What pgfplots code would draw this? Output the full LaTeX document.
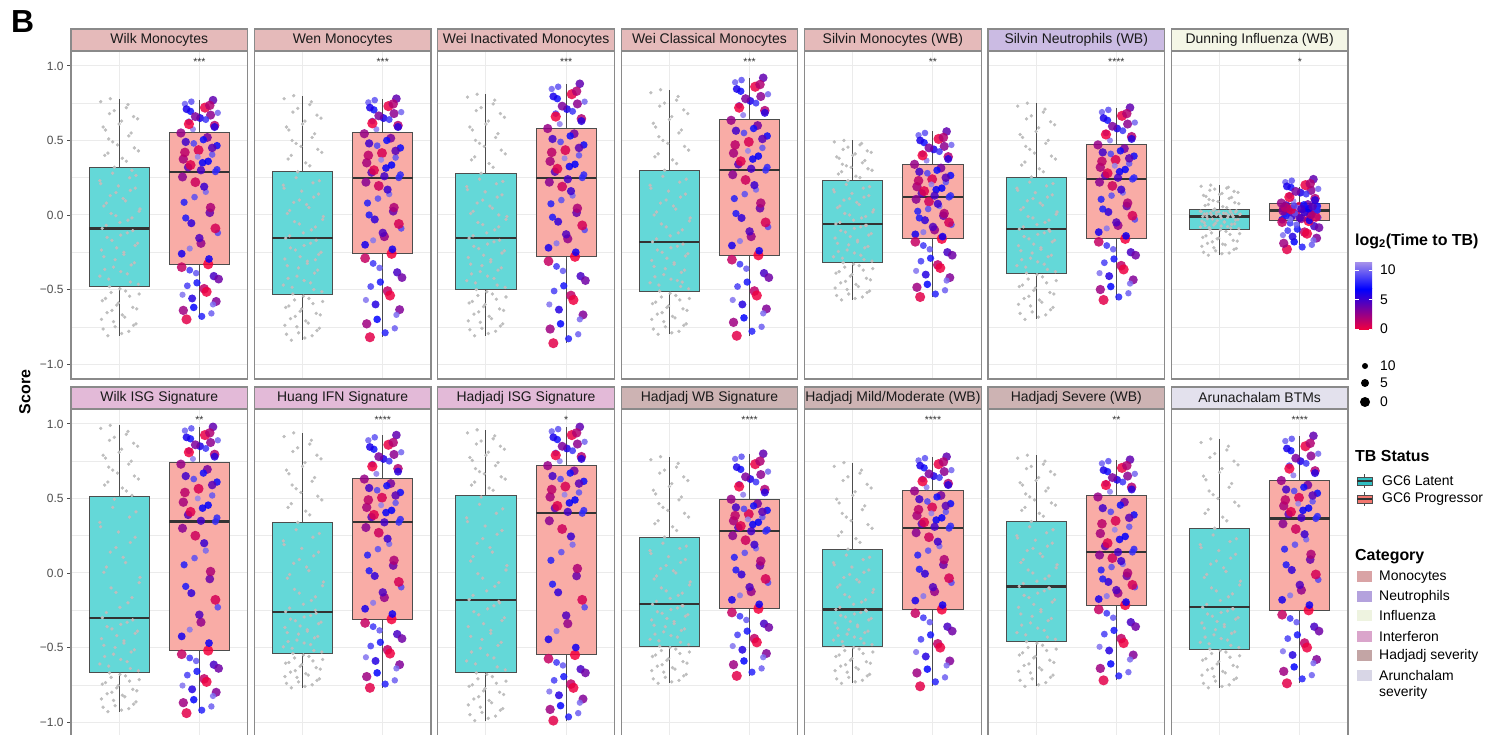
\documentclass[border=0pt]{standalone}
\usepackage{fontspec}
\setmainfont{Liberation Sans}
\usepackage{pgfplots}
\usepackage{pgfplotstable}
\pgfplotsset{compat=1.18}
\usepgfplotslibrary{statistics}

\definecolor{latfill}{HTML}{64D8D8}
\definecolor{profill}{HTML}{F9ACA6}
\definecolor{latkey}{HTML}{2FBFC2}
\definecolor{prokey}{HTML}{F2766E}
\definecolor{boxline}{HTML}{4D4D4D}
\definecolor{medc}{HTML}{333333}
\definecolor{ptgray}{HTML}{BEBEBE}
\definecolor{border}{HTML}{8A8A8A}
\definecolor{gridc}{HTML}{EBEBEB}
\definecolor{tickc}{HTML}{4D4D4D}
\definecolor{stript}{HTML}{1A1A1A}
\definecolor{starc}{HTML}{333333}
\definecolor{stripMono}{HTML}{E5BABA}
\definecolor{stripNeu}{HTML}{CBBBE3}
\definecolor{stripInf}{HTML}{F4F6E6}
\definecolor{stripIfn}{HTML}{E3BAD8}
\definecolor{stripHad}{HTML}{CDB3B3}
\definecolor{stripAru}{HTML}{E3E1ED}
\definecolor{keyMono}{HTML}{D9A3A5}
\definecolor{keyNeu}{HTML}{B4A2DD}
\definecolor{keyInf}{HTML}{EEF3E0}
\definecolor{keyIfn}{HTML}{DAA5CB}
\definecolor{keyHad}{HTML}{C3A5A5}
\definecolor{keyAru}{HTML}{D8D6E6}
\definecolor{cred}{RGB}{245,0,60}
\definecolor{cblue}{RGB}{0,0,255}
\definecolor{clav}{RGB}{160,140,235}

% gray points (GC6 Latent), set A: row x = jitter, rows y1..y14 = scores per panel
\pgfplotstableread[header=false]{
x 0.86 1.12 0.95 1.21 0.78 1.04 0.91 1.17 0.99 0.83 1.25 1.08 0.88 1.14 0.76 1.02 0.93 1.19 0.81 1.06 0.97 1.23 0.85 1.10 0.79 1.01 1.16 0.90 1.26 0.84 1.05 0.96 1.20 0.77 1.13 0.92 1.09 0.82 1.24 0.98 0.87 1.15 0.80 1.03 1.18 0.94 1.11 0.89
y1 -0.81 -0.78 -0.75 -0.73 -0.70 -0.67 -0.64 -0.62 -0.59 -0.56 -0.53 -0.51 -0.48 -0.45 -0.41 -0.38 -0.35 -0.32 -0.28 -0.25 -0.22 -0.19 -0.15 -0.12 -0.09 -0.05 -0.02 0.01 0.04 0.08 0.11 0.15 0.18 0.21 0.25 0.28 0.36 0.40 0.43 0.47 0.51 0.55 0.59 0.63 0.66 0.70 0.74 0.78
y2 -0.84 -0.81 -0.79 -0.76 -0.74 -0.71 -0.68 -0.66 -0.63 -0.61 -0.58 -0.56 -0.53 -0.50 -0.47 -0.44 -0.41 -0.37 -0.34 -0.31 -0.28 -0.25 -0.22 -0.19 -0.155 -0.12 -0.08 -0.045 -0.01 0.03 0.07 0.10 0.14 0.18 0.215 0.25 0.33 0.375 0.42 0.46 0.50 0.545 0.59 0.63 0.67 0.715 0.76 0.80
y3 -0.81 -0.78 -0.76 -0.73 -0.71 -0.68 -0.65 -0.63 -0.60 -0.58 -0.55 -0.53 -0.50 -0.47 -0.44 -0.41 -0.38 -0.355 -0.33 -0.30 -0.27 -0.24 -0.21 -0.18 -0.155 -0.12 -0.08 -0.05 -0.01 0.025 0.06 0.10 0.135 0.17 0.21 0.24 0.32 0.37 0.41 0.46 0.50 0.545 0.59 0.63 0.68 0.72 0.77 0.81
y4 -0.80 -0.78 -0.75 -0.73 -0.70 -0.68 -0.655 -0.63 -0.61 -0.585 -0.56 -0.54 -0.51 -0.48 -0.455 -0.43 -0.40 -0.37 -0.345 -0.32 -0.29 -0.26 -0.235 -0.21 -0.18 -0.14 -0.10 -0.06 -0.02 0.02 0.06 0.10 0.14 0.18 0.22 0.26 0.345 0.39 0.435 0.48 0.525 0.57 0.615 0.66 0.705 0.75 0.795 0.84
y5 -0.57 -0.55 -0.53 -0.51 -0.49 -0.465 -0.445 -0.425 -0.40 -0.38 -0.36 -0.34 -0.32 -0.30 -0.28 -0.255 -0.235 -0.21 -0.19 -0.17 -0.145 -0.125 -0.105 -0.08 -0.06 -0.035 -0.01 0.01 0.035 0.06 0.085 0.11 0.13 0.155 0.18 0.205 0.25 0.275 0.30 0.32 0.34 0.365 0.39 0.41 0.43 0.455 0.48 0.50
y6 -0.70 -0.67 -0.65 -0.62 -0.60 -0.57 -0.545 -0.52 -0.49 -0.47 -0.44 -0.415 -0.39 -0.365 -0.34 -0.315 -0.29 -0.27 -0.24 -0.22 -0.195 -0.17 -0.145 -0.12 -0.095 -0.065 -0.035 -0.01 0.02 0.05 0.08 0.11 0.135 0.165 0.195 0.22 0.29 0.335 0.375 0.415 0.46 0.50 0.54 0.585 0.625 0.665 0.71 0.75
y7 -0.27 -0.255 -0.24 -0.225 -0.21 -0.195 -0.18 -0.17 -0.155 -0.14 -0.125 -0.11 -0.095 -0.088 -0.081 -0.074 -0.067 -0.06 -0.052 -0.045 -0.038 -0.031 -0.024 -0.017 -0.01 -0.006 -0.002 0.001 0.005 0.009 0.012 0.016 0.02 0.024 0.027 0.031 0.049 0.063 0.076 0.09 0.104 0.118 0.131 0.145 0.159 0.173 0.186 0.20
y8 -0.93 -0.91 -0.89 -0.865 -0.845 -0.82 -0.80 -0.78 -0.755 -0.735 -0.715 -0.69 -0.67 -0.64 -0.61 -0.58 -0.545 -0.515 -0.485 -0.455 -0.42 -0.39 -0.36 -0.33 -0.30 -0.23 -0.165 -0.10 -0.03 0.04 0.105 0.17 0.24 0.31 0.375 0.44 0.55 0.59 0.63 0.67 0.71 0.75 0.79 0.83 0.87 0.91 0.95 0.99
y9 -0.77 -0.75 -0.73 -0.71 -0.695 -0.675 -0.655 -0.635 -0.615 -0.60 -0.58 -0.56 -0.54 -0.52 -0.495 -0.47 -0.45 -0.425 -0.40 -0.38 -0.355 -0.33 -0.31 -0.285 -0.26 -0.21 -0.16 -0.11 -0.06 -0.01 0.04 0.09 0.14 0.19 0.24 0.29 0.39 0.44 0.49 0.54 0.59 0.64 0.69 0.74 0.79 0.84 0.89 0.94
y10 -0.99 -0.96 -0.935 -0.91 -0.885 -0.855 -0.83 -0.80 -0.775 -0.75 -0.725 -0.695 -0.67 -0.63 -0.59 -0.55 -0.505 -0.465 -0.425 -0.385 -0.34 -0.30 -0.26 -0.22 -0.18 -0.12 -0.065 -0.005 0.05 0.11 0.17 0.23 0.285 0.345 0.40 0.46 0.555 0.59 0.63 0.665 0.70 0.74 0.775 0.81 0.85 0.885 0.92 0.96
y11 -0.74 -0.72 -0.70 -0.68 -0.655 -0.635 -0.615 -0.595 -0.575 -0.55 -0.53 -0.51 -0.49 -0.465 -0.445 -0.42 -0.395 -0.375 -0.35 -0.325 -0.305 -0.28 -0.26 -0.235 -0.21 -0.17 -0.135 -0.10 -0.06 -0.02 0.015 0.05 0.09 0.13 0.165 0.20 0.285 0.33 0.375 0.42 0.465 0.51 0.555 0.60 0.645 0.69 0.735 0.78
y12 -0.74 -0.72 -0.70 -0.68 -0.655 -0.635 -0.615 -0.595 -0.575 -0.55 -0.53 -0.51 -0.49 -0.47 -0.45 -0.43 -0.41 -0.39 -0.37 -0.35 -0.325 -0.305 -0.285 -0.265 -0.245 -0.21 -0.18 -0.145 -0.11 -0.08 -0.045 -0.01 0.02 0.055 0.09 0.12 0.205 0.25 0.30 0.35 0.40 0.45 0.495 0.545 0.595 0.645 0.69 0.74
y13 -0.76 -0.735 -0.71 -0.685 -0.66 -0.635 -0.61 -0.585 -0.56 -0.535 -0.51 -0.485 -0.46 -0.43 -0.40 -0.37 -0.335 -0.305 -0.275 -0.245 -0.21 -0.18 -0.15 -0.12 -0.09 -0.055 -0.02 0.02 0.055 0.09 0.13 0.165 0.20 0.235 0.27 0.31 0.38 0.42 0.455 0.49 0.53 0.57 0.605 0.64 0.68 0.715 0.75 0.79
y14 -0.77 -0.75 -0.725 -0.705 -0.685 -0.66 -0.64 -0.62 -0.595 -0.575 -0.555 -0.53 -0.51 -0.485 -0.465 -0.44 -0.415 -0.395 -0.37 -0.345 -0.325 -0.30 -0.275 -0.255 -0.23 -0.185 -0.14 -0.10 -0.055 -0.01 0.035 0.08 0.125 0.17 0.21 0.255 0.35 0.40 0.45 0.50 0.55 0.60 0.65 0.70 0.75 0.80 0.85 0.90
}\grawtab
\pgfplotstabletranspose[colnames from=0]{\gtab}{\grawtab}

% gray points (GC6 Latent), set B
\pgfplotstableread[header=false]{
x 1.03 0.80 1.18 0.93 1.07 0.85 1.22 0.97 0.79 1.13 0.90 1.01 1.24 0.87 1.10 0.82 1.15 0.95 1.06 0.78 1.20 0.91 1.02 1.17 0.84 1.11 0.96 1.25 0.81 1.08 0.89 1.14 0.99 0.76 1.21 0.94 1.04 0.86 1.19 0.92 1.12 0.83 1.00 1.23 0.88 1.09 0.77 1.16
y1 -0.795 -0.765 -0.74 -0.715 -0.685 -0.655 -0.63 -0.605 -0.575 -0.545 -0.52 -0.495 -0.465 -0.43 -0.395 -0.365 -0.335 -0.30 -0.265 -0.235 -0.205 -0.17 -0.135 -0.105 -0.07 -0.035 -0.005 0.025 0.06 0.095 0.13 0.165 0.195 0.23 0.265 0.32 0.38 0.415 0.45 0.49 0.53 0.57 0.61 0.645 0.68 0.72 0.76 0.30
y2 -0.825 -0.80 -0.775 -0.75 -0.725 -0.695 -0.67 -0.645 -0.62 -0.595 -0.57 -0.545 -0.515 -0.485 -0.455 -0.425 -0.39 -0.355 -0.325 -0.295 -0.265 -0.235 -0.205 -0.17 -0.14 -0.10 -0.06 -0.03 0.01 0.05 0.085 0.12 0.16 0.20 0.23 0.29 0.35 0.40 0.44 0.48 0.52 0.57 0.61 0.65 0.69 0.74 0.78 -0.30
y3 -0.795 -0.77 -0.745 -0.72 -0.695 -0.665 -0.64 -0.615 -0.59 -0.565 -0.54 -0.515 -0.485 -0.455 -0.425 -0.395 -0.37 -0.34 -0.315 -0.285 -0.255 -0.225 -0.195 -0.17 -0.14 -0.10 -0.065 -0.03 0.01 0.045 0.08 0.12 0.155 0.19 0.225 0.28 0.345 0.39 0.435 0.48 0.52 0.57 0.61 0.655 0.70 0.745 0.79 0.0
y4 -0.79 -0.765 -0.74 -0.715 -0.69 -0.665 -0.64 -0.62 -0.595 -0.57 -0.55 -0.525 -0.495 -0.47 -0.44 -0.415 -0.385 -0.36 -0.33 -0.305 -0.275 -0.25 -0.22 -0.195 -0.16 -0.12 -0.08 -0.04 0.0 0.04 0.08 0.12 0.16 0.20 0.24 0.30 0.37 0.41 0.46 0.50 0.55 0.59 0.64 0.68 0.73 0.77 0.82 -0.45
y5 -0.56 -0.54 -0.52 -0.50 -0.48 -0.455 -0.435 -0.41 -0.39 -0.37 -0.35 -0.33 -0.31 -0.29 -0.27 -0.245 -0.22 -0.20 -0.18 -0.155 -0.135 -0.115 -0.09 -0.07 -0.05 -0.02 0.0 0.02 0.05 0.07 0.10 0.12 0.145 0.17 0.19 0.23 0.26 0.29 0.31 0.33 0.35 0.38 0.40 0.42 0.44 0.47 0.49 -0.07
y6 -0.685 -0.66 -0.635 -0.61 -0.585 -0.56 -0.53 -0.505 -0.48 -0.455 -0.43 -0.40 -0.38 -0.35 -0.33 -0.30 -0.28 -0.255 -0.23 -0.205 -0.18 -0.16 -0.13 -0.11 -0.08 -0.05 -0.02 0.005 0.035 0.065 0.095 0.12 0.15 0.18 0.21 0.255 0.31 0.355 0.395 0.44 0.48 0.52 0.56 0.605 0.645 0.69 0.73 -0.10
y7 -0.26 -0.25 -0.23 -0.22 -0.20 -0.19 -0.175 -0.16 -0.15 -0.13 -0.12 -0.10 -0.092 -0.085 -0.078 -0.07 -0.063 -0.056 -0.048 -0.041 -0.034 -0.027 -0.02 -0.013 -0.008 -0.004 0.0 0.003 0.007 0.01 0.014 0.018 0.022 0.025 0.029 0.04 0.056 0.07 0.083 0.097 0.111 0.125 0.138 0.152 0.166 0.18 0.193 0.0
y8 -0.92 -0.90 -0.88 -0.855 -0.83 -0.81 -0.79 -0.77 -0.745 -0.725 -0.70 -0.68 -0.655 -0.625 -0.595 -0.56 -0.53 -0.50 -0.47 -0.44 -0.405 -0.375 -0.345 -0.315 -0.265 -0.20 -0.13 -0.065 0.005 0.07 0.14 0.205 0.275 0.34 0.41 0.495 0.57 0.61 0.65 0.69 0.73 0.77 0.81 0.85 0.89 0.93 0.97 0.52
y9 -0.76 -0.74 -0.72 -0.70 -0.685 -0.665 -0.645 -0.625 -0.605 -0.59 -0.57 -0.55 -0.53 -0.505 -0.48 -0.46 -0.435 -0.41 -0.39 -0.365 -0.34 -0.32 -0.295 -0.27 -0.235 -0.185 -0.135 -0.085 -0.035 0.015 0.065 0.115 0.165 0.215 0.265 0.34 0.415 0.465 0.515 0.565 0.615 0.665 0.715 0.765 0.815 0.865 0.915 -0.25
y10 -0.975 -0.95 -0.92 -0.90 -0.87 -0.845 -0.815 -0.79 -0.76 -0.74 -0.71 -0.68 -0.65 -0.61 -0.57 -0.53 -0.485 -0.445 -0.405 -0.36 -0.32 -0.28 -0.24 -0.20 -0.15 -0.09 -0.035 0.02 0.08 0.14 0.20 0.26 0.315 0.37 0.43 0.51 0.57 0.61 0.645 0.68 0.72 0.755 0.79 0.83 0.865 0.90 0.94 -0.19
y11 -0.73 -0.71 -0.69 -0.665 -0.645 -0.625 -0.605 -0.585 -0.56 -0.54 -0.52 -0.50 -0.48 -0.455 -0.43 -0.41 -0.385 -0.36 -0.34 -0.315 -0.29 -0.27 -0.245 -0.22 -0.19 -0.15 -0.12 -0.08 -0.04 0.0 0.03 0.07 0.11 0.15 0.18 0.24 0.31 0.35 0.40 0.44 0.49 0.53 0.58 0.62 0.67 0.71 0.76 -0.22
y12 -0.73 -0.71 -0.69 -0.665 -0.645 -0.625 -0.605 -0.585 -0.56 -0.54 -0.52 -0.50 -0.48 -0.46 -0.44 -0.42 -0.40 -0.38 -0.36 -0.335 -0.315 -0.295 -0.275 -0.255 -0.23 -0.195 -0.16 -0.13 -0.095 -0.06 -0.03 0.005 0.04 0.07 0.105 0.16 0.23 0.275 0.325 0.375 0.425 0.47 0.52 0.57 0.62 0.67 0.715 -0.25
y13 -0.75 -0.72 -0.70 -0.67 -0.65 -0.62 -0.60 -0.57 -0.55 -0.52 -0.50 -0.47 -0.445 -0.415 -0.385 -0.35 -0.32 -0.29 -0.26 -0.23 -0.195 -0.165 -0.135 -0.105 -0.07 -0.04 0.0 0.035 0.07 0.11 0.15 0.18 0.22 0.25 0.29 0.345 0.40 0.44 0.47 0.51 0.55 0.59 0.62 0.66 0.70 0.73 0.77 -0.10
y14 -0.76 -0.74 -0.715 -0.695 -0.67 -0.65 -0.63 -0.61 -0.585 -0.565 -0.54 -0.52 -0.50 -0.475 -0.45 -0.43 -0.405 -0.38 -0.36 -0.335 -0.31 -0.29 -0.265 -0.24 -0.21 -0.16 -0.12 -0.08 -0.03 0.01 0.06 0.10 0.15 0.19 0.23 0.30 0.375 0.425 0.475 0.525 0.575 0.625 0.675 0.725 0.775 0.825 0.875 -0.24
}\grawtabb
\pgfplotstabletranspose[colnames from=0]{\gtabb}{\grawtabb}

% coloured points (GC6 Progressor), set A: x = jitter, c = log2(time to TB), y1..y14 = scores
\pgfplotstableread[header=false]{
x 1.84 2.15 1.93 2.21 1.79 2.06 1.97 2.18 1.88 2.11 1.78 2.02 2.23 1.90 2.13 1.81 2.08 1.95 2.20 1.86 2.04 1.80 2.16 1.99 2.22 1.83 2.10 1.92 2.19 1.87 2.01 2.14 1.89 2.07 1.82 2.17
c 0.5 9.8 6.9 3.2 10.4 1.5 7.5 4.8 8.6 0.0 6.2 2.7 9.1 5.5 3.9 7.8 10.1 1.1 8.3 4.4 6.6 2.2 9.5 0.8 7.1 5.0 3.5 10.7 1.8 8.9 6.0 2.9 7.3 0.3 9.9 4.1
y1 -0.70 -0.66 -0.62 -0.58 -0.535 -0.495 -0.455 -0.41 -0.37 -0.33 -0.26 -0.19 -0.12 -0.055 0.015 0.085 0.155 0.22 0.29 0.32 0.35 0.375 0.405 0.435 0.465 0.49 0.52 0.575 0.60 0.625 0.65 0.67 0.695 0.72 0.745 0.77
y2 -0.82 -0.76 -0.70 -0.635 -0.57 -0.51 -0.45 -0.385 -0.325 -0.26 -0.20 -0.145 -0.09 -0.03 0.025 0.08 0.14 0.195 0.25 0.285 0.315 0.35 0.385 0.415 0.45 0.48 0.515 0.575 0.60 0.63 0.65 0.68 0.705 0.73 0.755 0.78
y3 -0.86 -0.80 -0.73 -0.67 -0.60 -0.54 -0.475 -0.41 -0.345 -0.28 -0.22 -0.16 -0.10 -0.045 0.015 0.075 0.13 0.19 0.25 0.29 0.325 0.36 0.40 0.435 0.47 0.51 0.545 0.61 0.645 0.68 0.71 0.745 0.78 0.81 0.845 0.88
y4 -0.81 -0.75 -0.69 -0.63 -0.57 -0.51 -0.45 -0.39 -0.33 -0.27 -0.205 -0.145 -0.08 -0.02 0.045 0.11 0.17 0.235 0.30 0.34 0.375 0.415 0.45 0.49 0.53 0.565 0.60 0.67 0.70 0.735 0.765 0.795 0.83 0.86 0.89 0.92
y5 -0.55 -0.505 -0.465 -0.42 -0.375 -0.335 -0.29 -0.25 -0.205 -0.16 -0.13 -0.10 -0.065 -0.035 -0.005 0.025 0.06 0.09 0.12 0.145 0.17 0.19 0.22 0.24 0.265 0.29 0.315 0.365 0.39 0.41 0.44 0.46 0.485 0.51 0.535 0.56
y6 -0.57 -0.525 -0.48 -0.435 -0.39 -0.34 -0.295 -0.25 -0.205 -0.16 -0.115 -0.07 -0.03 0.02 0.06 0.105 0.15 0.195 0.24 0.265 0.29 0.32 0.345 0.37 0.395 0.42 0.445 0.50 0.525 0.55 0.58 0.61 0.635 0.665 0.69 0.72
y7 -0.23 -0.20 -0.18 -0.155 -0.135 -0.115 -0.095 -0.075 -0.055 -0.04 -0.032 -0.024 -0.017 -0.009 -0.001 0.007 0.015 0.022 0.03 0.035 0.04 0.045 0.05 0.055 0.06 0.065 0.07 0.093 0.11 0.13 0.15 0.165 0.185 0.20 0.22 0.24
y8 -0.94 -0.895 -0.85 -0.80 -0.755 -0.71 -0.66 -0.615 -0.57 -0.52 -0.425 -0.33 -0.23 -0.135 -0.04 0.055 0.15 0.25 0.345 0.39 0.435 0.475 0.52 0.565 0.61 0.65 0.695 0.765 0.795 0.82 0.85 0.875 0.90 0.925 0.955 0.98
y9 -0.77 -0.72 -0.67 -0.615 -0.565 -0.515 -0.465 -0.41 -0.36 -0.31 -0.24 -0.165 -0.095 -0.02 0.05 0.12 0.195 0.27 0.34 0.375 0.405 0.44 0.47 0.505 0.54 0.57 0.60 0.665 0.70 0.73 0.765 0.795 0.83 0.86 0.89 0.925
y10 -0.99 -0.94 -0.89 -0.845 -0.795 -0.745 -0.695 -0.645 -0.60 -0.55 -0.445 -0.34 -0.23 -0.13 -0.02 0.085 0.19 0.295 0.40 0.435 0.47 0.51 0.54 0.58 0.615 0.65 0.685 0.75 0.78 0.805 0.835 0.865 0.895 0.925 0.95 0.98
y11 -0.69 -0.64 -0.59 -0.54 -0.49 -0.44 -0.39 -0.34 -0.29 -0.24 -0.18 -0.125 -0.065 -0.01 0.05 0.105 0.165 0.22 0.28 0.305 0.325 0.35 0.375 0.395 0.42 0.44 0.465 0.525 0.56 0.595 0.63 0.66 0.695 0.73 0.765 0.80
y12 -0.76 -0.70 -0.645 -0.59 -0.53 -0.475 -0.415 -0.36 -0.30 -0.245 -0.185 -0.125 -0.065 -0.005 0.055 0.12 0.18 0.24 0.30 0.33 0.355 0.385 0.41 0.44 0.465 0.495 0.52 0.575 0.60 0.63 0.65 0.68 0.705 0.73 0.755 0.78
y13 -0.72 -0.665 -0.61 -0.55 -0.495 -0.44 -0.385 -0.33 -0.27 -0.215 -0.175 -0.135 -0.095 -0.06 -0.02 0.02 0.06 0.10 0.14 0.18 0.225 0.265 0.31 0.35 0.39 0.435 0.475 0.545 0.575 0.60 0.625 0.65 0.68 0.705 0.735 0.76
y14 -0.74 -0.685 -0.63 -0.58 -0.525 -0.47 -0.415 -0.36 -0.305 -0.25 -0.18 -0.115 -0.045 0.02 0.09 0.16 0.225 0.295 0.365 0.395 0.42 0.45 0.48 0.505 0.535 0.56 0.59 0.655 0.685 0.72 0.75 0.785 0.82 0.85 0.885 0.92
}\crawtab
\pgfplotstabletranspose[colnames from=0]{\ctab}{\crawtab}

% coloured points (GC6 Progressor), set B
\pgfplotstableread[header=false]{
x 2.03 1.80 2.17 1.91 2.09 1.85 2.24 1.96 1.78 2.12 1.88 2.00 2.20 1.83 2.14 1.94 2.06 1.79 2.22 1.89 2.11 1.98 1.82 2.16 1.93 2.05 1.77 2.19 1.87 2.08 1.95 2.23 1.84 2.13 1.90 2.02
c 7.9 2.4 10.2 5.8 0.2 8.8 3.7 9.6 1.3 6.4 10.5 4.6 0.9 7.6 2.0 9.3 5.2 3.0 8.1 0.6 6.8 10.9 1.6 4.3 9.0 7.2 2.6 5.7 0.1 8.5 3.3 10.0 6.1 1.9 9.4 4.9
y1 -0.68 -0.64 -0.60 -0.56 -0.515 -0.475 -0.43 -0.39 -0.35 -0.295 -0.225 -0.155 -0.09 -0.02 0.05 0.12 0.19 0.255 0.305 0.335 0.36 0.39 0.42 0.45 0.48 0.505 0.55 0.59 0.61 0.64 0.66 0.685 0.71 0.735 0.76 0.30
y2 -0.79 -0.73 -0.67 -0.60 -0.54 -0.48 -0.42 -0.355 -0.29 -0.23 -0.17 -0.12 -0.06 0.0 0.05 0.11 0.17 0.22 0.27 0.30 0.335 0.37 0.40 0.43 0.465 0.50 0.545 0.59 0.615 0.64 0.665 0.69 0.72 0.745 0.77 0.26
y3 -0.83 -0.765 -0.70 -0.635 -0.57 -0.51 -0.44 -0.375 -0.31 -0.25 -0.19 -0.13 -0.07 -0.015 0.045 0.10 0.16 0.22 0.27 0.31 0.34 0.38 0.42 0.45 0.49 0.53 0.58 0.63 0.66 0.695 0.73 0.76 0.795 0.83 0.86 0.24
y4 -0.78 -0.72 -0.66 -0.60 -0.54 -0.48 -0.42 -0.36 -0.30 -0.24 -0.175 -0.11 -0.05 0.01 0.08 0.14 0.20 0.27 0.32 0.36 0.395 0.43 0.47 0.51 0.55 0.58 0.635 0.685 0.72 0.75 0.78 0.81 0.845 0.875 0.905 0.31
y5 -0.53 -0.485 -0.44 -0.40 -0.355 -0.31 -0.27 -0.23 -0.18 -0.145 -0.115 -0.08 -0.05 -0.02 0.01 0.04 0.075 0.105 0.13 0.16 0.18 0.205 0.23 0.25 0.28 0.30 0.34 0.375 0.40 0.425 0.45 0.47 0.50 0.52 0.55 0.13
y6 -0.55 -0.50 -0.46 -0.41 -0.365 -0.32 -0.27 -0.23 -0.18 -0.14 -0.09 -0.05 -0.005 0.04 0.08 0.13 0.17 0.22 0.25 0.28 0.305 0.33 0.36 0.38 0.41 0.43 0.47 0.51 0.54 0.565 0.595 0.62 0.65 0.68 0.705 0.25
y7 -0.215 -0.19 -0.17 -0.145 -0.125 -0.105 -0.085 -0.065 -0.048 -0.036 -0.028 -0.02 -0.013 -0.005 0.003 0.011 0.018 0.026 0.032 0.037 0.042 0.048 0.052 0.058 0.062 0.068 0.08 0.10 0.12 0.14 0.158 0.175 0.192 0.21 0.23 0.04
y8 -0.92 -0.87 -0.825 -0.78 -0.73 -0.685 -0.64 -0.59 -0.545 -0.47 -0.38 -0.28 -0.18 -0.09 0.01 0.10 0.20 0.30 0.37 0.41 0.455 0.50 0.54 0.59 0.63 0.67 0.73 0.78 0.81 0.835 0.86 0.89 0.91 0.94 0.97 0.35
y9 -0.745 -0.695 -0.64 -0.59 -0.54 -0.49 -0.44 -0.385 -0.335 -0.275 -0.20 -0.13 -0.06 0.015 0.085 0.16 0.23 0.305 0.36 0.39 0.42 0.455 0.49 0.52 0.555 0.585 0.63 0.68 0.715 0.75 0.78 0.81 0.845 0.875 0.91 0.34
y10 -0.965 -0.915 -0.87 -0.82 -0.77 -0.72 -0.67 -0.62 -0.575 -0.50 -0.39 -0.285 -0.18 -0.075 0.03 0.14 0.245 0.35 0.42 0.45 0.49 0.525 0.56 0.60 0.63 0.67 0.72 0.765 0.79 0.82 0.85 0.88 0.91 0.94 0.965 0.41
y11 -0.665 -0.615 -0.565 -0.515 -0.465 -0.415 -0.365 -0.315 -0.265 -0.21 -0.15 -0.095 -0.04 0.02 0.08 0.135 0.19 0.25 0.29 0.315 0.34 0.36 0.385 0.41 0.43 0.45 0.495 0.54 0.58 0.61 0.645 0.68 0.71 0.75 0.78 0.28
y12 -0.73 -0.67 -0.62 -0.56 -0.50 -0.445 -0.39 -0.33 -0.27 -0.215 -0.155 -0.095 -0.035 0.025 0.09 0.15 0.21 0.27 0.315 0.34 0.37 0.40 0.425 0.45 0.48 0.51 0.55 0.59 0.615 0.64 0.665 0.69 0.72 0.745 0.77 0.31
y13 -0.69 -0.64 -0.58 -0.52 -0.47 -0.41 -0.36 -0.30 -0.245 -0.195 -0.155 -0.115 -0.08 -0.04 0.0 0.04 0.08 0.12 0.16 0.20 0.245 0.29 0.33 0.37 0.41 0.455 0.51 0.56 0.59 0.61 0.64 0.665 0.69 0.72 0.75 0.14
y14 -0.71 -0.66 -0.605 -0.55 -0.50 -0.44 -0.39 -0.33 -0.28 -0.215 -0.15 -0.08 -0.01 0.055 0.125 0.19 0.26 0.33 0.38 0.41 0.435 0.465 0.49 0.52 0.55 0.575 0.62 0.67 0.70 0.735 0.77 0.80 0.835 0.87 0.90 0.37
}\crawtabb
\pgfplotstabletranspose[colnames from=0]{\ctabb}{\crawtabb}

\pgfplotsset{
  colormap={tbmap}{rgb255(0cm)=(245,0,60) rgb255(17cm)=(0,0,255) rgb255(28cm)=(160,140,235)},
  bs/.style n args={6}{boxplot prepared={draw direction=y, draw position=#1, lower whisker=#2, lower quartile=#3, median=#4, upper quartile=#5, upper whisker=#6, box extend=0.75, whisker extend=0}},
  graypts/.style={only marks, mark=*, mark size=1.5, color=ptgray, mark options={draw=none, fill=ptgray}},
  colpts/.style={scatter, only marks, mark=*, colormap name=tbmap, scatter src=explicit,
    point meta min=0, point meta max=11.2,
    mark options={fill opacity=0.85, draw opacity=0},
    visualization depends on={\thisrow{c} \as \tbt},
    scatter/@pre marker code/.append style={/tikz/mark size=5.2-0.2*\tbt}},
  panel/.style={
    scale only axis, width=176.5bp, height=328bp, anchor=north west,
    xmin=0.4, xmax=2.6, ymin=-1.1, ymax=1.1,
    xtick={1,2}, xticklabels={}, xtick style={draw=none},
    ytick={-1,-0.5,0,0.5,1}, minor ytick={-0.75,-0.25,0.25,0.75},
    grid=both,
    major grid style={draw=gridc, line width=1bp},
    minor grid style={draw=gridc, line width=0.5bp},
    axis line style={draw=border, line width=1.2bp},
    minor tick length=0pt,
    tick align=outside, ytick pos=left,
    clip=false,
  },
  leftpanel/.style={yticklabels={−1.0,−0.5,0.0,0.5,1.0},
    ytick style={draw=tickc, line width=0.9bp}, major tick length=4bp,
    yticklabel style={font=\fontsize{12}{14}\selectfont, text=tickc}},
  innerpanel/.style={yticklabels={}, ytick style={draw=none}},
}

% #1 x, #2 y (top, bp), #3 panel index, #4 title, #5 strip colour, #6 stars,
% #7 latent stats, #8 progressor stats, #9 style
\newcommand{\panel}[9]{%
\begin{axis}[panel, #9, at={(#1bp,#2bp)}]
\addplot[bs={1}#7, draw=boxline,
  boxplot/every box/.style={draw=boxline, fill=latfill, line width=1bp},
  boxplot/every whisker/.style={draw=boxline, line width=1bp},
  boxplot/every median/.style={draw=medc, line width=2.2bp}] coordinates {};
\addplot[bs={2}#8, draw=boxline,
  boxplot/every box/.style={draw=boxline, fill=profill, line width=1bp},
  boxplot/every whisker/.style={draw=boxline, line width=1bp},
  boxplot/every median/.style={draw=medc, line width=2.2bp}] coordinates {};
\addplot[graypts] table[x=x, y=y#3] {\gtab};
\addplot[graypts] table[x=x, y=y#3] {\gtabb};
\addplot[colpts] table[x=x, y=y#3, meta=c] {\ctab};
\addplot[colpts] table[x=x, y=y#3, meta=c] {\ctabb};
\node[anchor=base, inner sep=0pt, font=\fontsize{10.5}{12}\selectfont, text=starc] at (axis cs:2,1.0) {#6};
\draw[draw=border, line width=1.2bp, fill=#5] (rel axis cs:0,1) rectangle ([yshift=22bp]rel axis cs:1,1);
\node[font=\fontsize{14}{16}\selectfont, text=stript, inner sep=0pt] at ([yshift=11bp]rel axis cs:0.5,1) {#4};
\end{axis}}

\begin{document}
\begin{tikzpicture}[x=1bp,y=1bp]
\path[use as bounding box] (0,0) rectangle (1493,735);

\panel{71}{684}{1}{Wilk Monocytes}{stripMono}{***}{{-0.81}{-0.48}{-0.09}{0.32}{0.78}}{{-0.70}{-0.33}{0.29}{0.55}{0.77}}{leftpanel}
\panel{254.4}{684}{2}{Wen Monocytes}{stripMono}{***}{{-0.84}{-0.53}{-0.155}{0.29}{0.80}}{{-0.82}{-0.26}{0.25}{0.55}{0.78}}{innerpanel}
\panel{437.8}{684}{3}{Wei Inactivated Monocytes}{stripMono}{***}{{-0.81}{-0.50}{-0.155}{0.28}{0.81}}{{-0.86}{-0.28}{0.25}{0.58}{0.88}}{innerpanel}
\panel{621.2}{684}{4}{Wei Classical Monocytes}{stripMono}{***}{{-0.80}{-0.51}{-0.18}{0.30}{0.84}}{{-0.81}{-0.27}{0.30}{0.64}{0.92}}{innerpanel}
\panel{804.6}{684}{5}{Silvin Monocytes (WB)}{stripMono}{**}{{-0.57}{-0.32}{-0.06}{0.23}{0.50}}{{-0.55}{-0.16}{0.12}{0.34}{0.56}}{innerpanel}
\panel{988}{684}{6}{Silvin Neutrophils (WB)}{stripNeu}{****}{{-0.70}{-0.39}{-0.095}{0.25}{0.75}}{{-0.57}{-0.16}{0.24}{0.47}{0.72}}{innerpanel}
\panel{1171.4}{684}{7}{Dunning Influenza (WB)}{stripInf}{*}{{-0.27}{-0.095}{-0.01}{0.035}{0.20}}{{-0.20}{-0.04}{0.03}{0.075}{0.19}}{innerpanel}

\panel{71}{326}{8}{Wilk ISG Signature}{stripIfn}{**}{{-0.93}{-0.67}{-0.30}{0.51}{0.99}}{{-0.94}{-0.52}{0.345}{0.74}{0.98}}{leftpanel}
\panel{254.4}{326}{9}{Huang IFN Signature}{stripIfn}{****}{{-0.77}{-0.54}{-0.26}{0.34}{0.94}}{{-0.77}{-0.31}{0.34}{0.635}{0.925}}{innerpanel}
\panel{437.8}{326}{10}{Hadjadj ISG Signature}{stripIfn}{*}{{-0.99}{-0.67}{-0.18}{0.52}{0.96}}{{-0.99}{-0.55}{0.40}{0.72}{0.98}}{innerpanel}
\panel{621.2}{326}{11}{Hadjadj WB Signature}{stripHad}{****}{{-0.74}{-0.49}{-0.21}{0.24}{0.78}}{{-0.69}{-0.24}{0.28}{0.49}{0.80}}{innerpanel}
\panel{804.6}{326}{12}{Hadjadj Mild/Moderate (WB)}{stripHad}{****}{{-0.74}{-0.49}{-0.245}{0.155}{0.74}}{{-0.76}{-0.245}{0.30}{0.55}{0.78}}{innerpanel}
\panel{988}{326}{13}{Hadjadj Severe (WB)}{stripHad}{**}{{-0.76}{-0.46}{-0.09}{0.345}{0.79}}{{-0.72}{-0.215}{0.14}{0.52}{0.76}}{innerpanel}
\panel{1171.4}{326}{14}{Arunachalam BTMs}{stripAru}{****}{{-0.77}{-0.51}{-0.23}{0.30}{0.90}}{{-0.74}{-0.25}{0.365}{0.62}{0.92}}{innerpanel}

% panel label and y label
\node[anchor=base west, inner sep=0pt, font=\bfseries\fontsize{32}{36}\selectfont] at (11,702) {B};
\node[rotate=90, font=\bfseries\fontsize{16}{19}\selectfont] at (25,343) {Score};

% colour bar legend
\node[anchor=west, inner sep=0pt, font=\bfseries\fontsize{16}{19}\selectfont] at (1355,494) {log\textsubscript{2}(Time to TB)};
\shade[bottom color=cred, top color=cblue] (1355,405) rectangle (1372,446);
\shade[bottom color=cblue, top color=clav] (1355,446) rectangle (1372,472);
\foreach \yy in {406,435.5,465} {
  \draw[white, line width=0.8bp] (1355,\yy) -- ++(3.5,0) (1372,\yy) -- ++(-3.5,0);
}
\node[anchor=west, inner sep=0pt, font=\fontsize{14}{16}\selectfont] at (1380,465) {10};
\node[anchor=west, inner sep=0pt, font=\fontsize{14}{16}\selectfont] at (1380,435.5) {5};
\node[anchor=west, inner sep=0pt, font=\fontsize{14}{16}\selectfont] at (1380,406) {0};

% size legend
\fill (1365,369) circle (3);
\fill (1365,352) circle (4);
\fill (1365,333) circle (5);
\node[anchor=west, inner sep=0pt, font=\fontsize{14}{16}\selectfont] at (1380,369) {10};
\node[anchor=west, inner sep=0pt, font=\fontsize{14}{16}\selectfont] at (1380,352) {5};
\node[anchor=west, inner sep=0pt, font=\fontsize{14}{16}\selectfont] at (1380,333) {0};

% TB status legend
\node[anchor=west, inner sep=0pt, font=\bfseries\fontsize{16}{19}\selectfont] at (1355,279) {TB Status};
\draw[boxline, line width=0.8bp] (1364.5,258) -- (1364.5,261) (1364.5,250) -- (1364.5,247);
\draw[boxline, fill=latkey, line width=0.8bp] (1357,250) rectangle (1372,258);
\draw[medc, line width=1.2bp] (1357,254) -- (1372,254);
\draw[boxline, line width=0.8bp] (1364.5,240) -- (1364.5,243) (1364.5,232) -- (1364.5,229);
\draw[boxline, fill=prokey, line width=0.8bp] (1357,232) rectangle (1372,240);
\draw[medc, line width=1.2bp] (1357,236) -- (1372,236);
\node[anchor=west, inner sep=0pt, font=\fontsize{14}{16}\selectfont] at (1382,254) {GC6 Latent};
\node[anchor=west, inner sep=0pt, font=\fontsize{14}{16}\selectfont] at (1382,236) {GC6 Progressor};

% category legend
\node[anchor=west, inner sep=0pt, font=\bfseries\fontsize{16}{19}\selectfont] at (1355,178) {Category};
\fill[keyMono] (1357,152.5) rectangle (1372,163.5);
\fill[keyNeu] (1357,132.5) rectangle (1372,143.5);
\fill[keyInf] (1357,113.5) rectangle (1372,124.5);
\fill[keyIfn] (1357,92.5) rectangle (1372,103.5);
\fill[keyHad] (1357,73.5) rectangle (1372,84.5);
\fill[keyAru] (1357,53.5) rectangle (1372,64.5);
\node[anchor=west, inner sep=0pt, font=\fontsize{14}{16}\selectfont] at (1379,158) {Monocytes};
\node[anchor=west, inner sep=0pt, font=\fontsize{14}{16}\selectfont] at (1379,138) {Neutrophils};
\node[anchor=west, inner sep=0pt, font=\fontsize{14}{16}\selectfont] at (1379,119) {Influenza};
\node[anchor=west, inner sep=0pt, font=\fontsize{14}{16}\selectfont] at (1379,98) {Interferon};
\node[anchor=west, inner sep=0pt, font=\fontsize{14}{16}\selectfont] at (1379,79) {Hadjadj severity};
\node[anchor=west, inner sep=0pt, font=\fontsize{14}{16}\selectfont] at (1379,59) {Arunchalam};
\node[anchor=west, inner sep=0pt, font=\fontsize{14}{16}\selectfont] at (1379,42) {severity};
\end{tikzpicture}
\end{document}
